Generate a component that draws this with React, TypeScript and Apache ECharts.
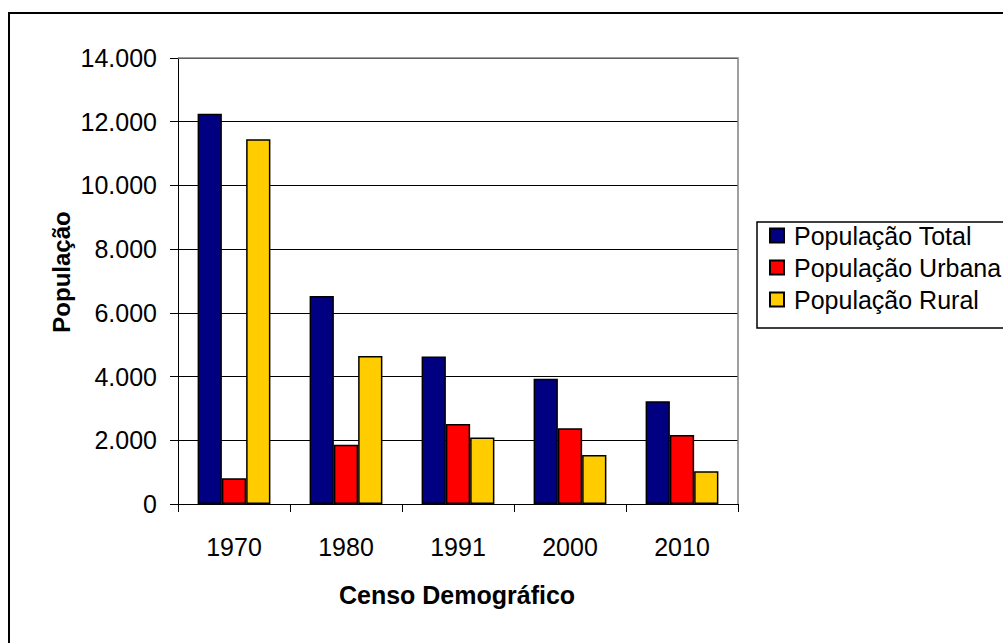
import React, { useEffect, useRef } from "react";
import * as echarts from "echarts";

const categories = ["1970", "1980", "1991", "2000", "2010"];
const seriesNames = ["População Total", "População Urbana", "População Rural"];
const popTotal = [12250, 6530, 4630, 3930, 3225];
const popUrbana = [810, 1860, 2510, 2375, 2165];
const popRural = [11450, 4645, 2090, 1535, 1030];
const colors = ["#000080", "#FF0000", "#FFCC00"];
const yAxisName = "População";
const xAxisName = "Censo Demográfico";

const FONT = '"Liberation Sans", Arial, sans-serif';

function fmt(v: number): string {
  if (v === 0) return "0";
  const th = Math.floor(v / 1000);
  const rest = String(v % 1000).padStart(3, "0");
  return `${th}.${rest}`;
}

export default function App() {
  const ref = useRef<HTMLDivElement>(null);
  useEffect(() => {
    if (!ref.current) return;
    const chart = echarts.init(ref.current, undefined, { renderer: "svg" });
    const data = [popTotal, popUrbana, popRural];
    chart.setOption({
      animation: false,
      backgroundColor: "#ffffff",
      grid: { left: 178, top: 58, right: 265, bottom: 139, containLabel: false },
      xAxis: {
        type: "category",
        data: categories,
        axisLine: { lineStyle: { color: "#000", width: 1 } },
        axisTick: { show: true, length: 8, lineStyle: { color: "#000" } },
        axisLabel: { fontFamily: FONT, fontSize: 25, color: "#000", margin: 30 },
        splitLine: { show: false },
      },
      yAxis: {
        type: "value",
        min: 0,
        max: 14000,
        interval: 2000,
        axisLine: { show: true, lineStyle: { color: "#000", width: 1 } },
        axisTick: { show: true, length: 8, lineStyle: { color: "#000" } },
        axisLabel: {
          fontFamily: FONT,
          fontSize: 25,
          color: "#000",
          margin: 21,
          formatter: (v: number) => fmt(v),
        },
        splitLine: { show: true, lineStyle: { color: "#000", width: 1 } },
      },
      legend: {
        orient: "vertical",
        left: 769,
        top: 223,
        padding: 0,
        itemWidth: 14,
        itemHeight: 14,
        itemGap: 7,
        icon: "rect",
        data: seriesNames,
        textStyle: { fontFamily: FONT, fontSize: 25, color: "#000", lineHeight: 25, padding: [0, 0, 0, 5] },
      },
      series: seriesNames.map((name, i) => ({
        name,
        type: "bar",
        data: data[i],
        barGap: "0%",
        barCategoryGap: "35%",
        itemStyle: { color: colors[i], borderColor: "#000", borderWidth: 1.5 },
      })),
      graphic: [
        {
          type: "rect",
          shape: { x: 9, y: 13, width: 1100, height: 700 },
          style: { fill: "none", stroke: "#000", lineWidth: 2 },
          z: 100,
        },
        {
          type: "polyline",
          shape: { points: [[178, 58], [738, 58], [738, 504]] },
          style: { fill: "none", stroke: "#808080", lineWidth: 1.5 },
          z: 50,
        },
        {
          type: "rect",
          shape: { x: 757, y: 222, width: 400, height: 106 },
          style: { fill: "none", stroke: "#000", lineWidth: 1.5 },
          z: 100,
        },
        {
          type: "text",
          x: 61,
          y: 272,
          rotation: Math.PI / 2,
          style: {
            text: yAxisName,
            align: "center",
            verticalAlign: "middle",
            font: `bold 24px ${FONT}`,
            fill: "#000",
          },
        },
        {
          type: "text",
          x: 457,
          y: 595,
          style: {
            text: xAxisName,
            align: "center",
            verticalAlign: "middle",
            font: `bold 25px ${FONT}`,
            fill: "#000",
          },
        },
      ],
    });
    return () => chart.dispose();
  }, []);
  return (
    <div
      ref={ref}
      style={{ position: "fixed", left: 0, top: 0, width: 1003, height: 643 }}
    />
  );
}
